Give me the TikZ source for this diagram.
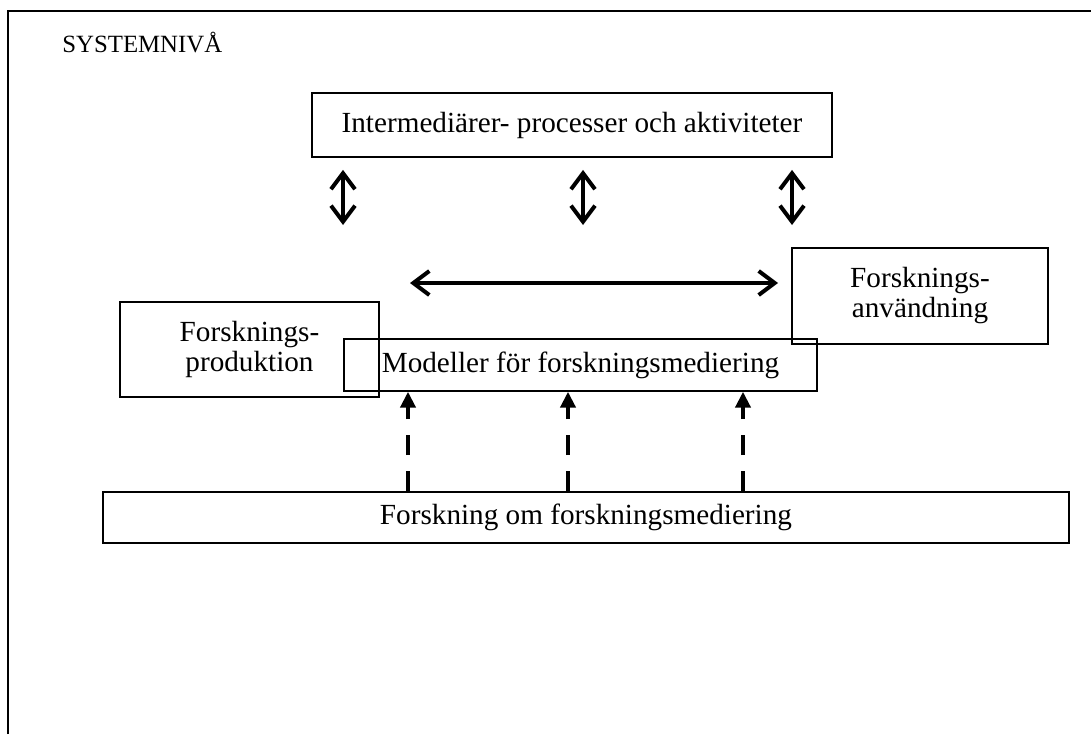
\documentclass[tikz,border=0pt]{standalone}
\usepackage{fontspec}
\setmainfont{Liberation Serif}
\usetikzlibrary{arrows.meta}

\begin{document}
\begin{tikzpicture}[
  x=0.5pt, y=-0.5pt,
  box/.style={draw, line width=0.9pt, inner sep=0pt, align=center, font=\fontsize{14.6}{15}\selectfont},
  dbl/.style={{Straight Barb[length=8pt,width=12pt]}-{Straight Barb[length=8pt,width=12pt]}, line width=2pt},
  dup/.style={-{Triangle[length=8pt,width=7.5pt]}, line width=2pt, dash pattern=on 10pt off 8pt}
]
\useasboundingbox (0,0) rectangle (1091,734);

% frame
\draw[line width=1pt] (8,734) -- (8,11) -- (1091,11);
\node[anchor=base west, inner sep=0pt, font=\fontsize{12.4}{14}\selectfont] (sys) at (62,52) {SYSTEMNIVÅ};

\node[box, minimum width=260pt, minimum height=32pt] (inter) at (572,125) {Intermediärer- processer och aktiviteter};
\node[box, line width=1.2pt, minimum width=128pt, minimum height=48pt] (anv) at (920,296) {Forsknings-\\användning};
\node[box, line width=0.7pt, minimum width=129.5pt, minimum height=47.5pt] (prod) at (249.5,349.5) {Forsknings-\\produktion};
\node[box, line width=0.7pt, minimum width=236.5pt, minimum height=26pt] (mod) at (580.5,365) {Modeller för forskningsmediering};
\node[box, minimum width=483pt, minimum height=25.5pt] (fom) at (586,517.5) {Forskning om forskningsmediering};

% free ends of the two-way arrows
\coordinate (a1) at (343,225);
\coordinate (a2) at (583,225);
\coordinate (a3) at (792,225);
\coordinate (hl) at (410,283);
\coordinate (hr) at (778,283);

\foreach \c in {a1,a2,a3}
  \draw[dbl] ([yshift=-6pt]inter.south -| \c) -- (\c);
\draw[dbl] (hl) -- (hr);

\foreach \x in {408,568,743}
  \draw[dup] (fom.north -| \x,0) -- (mod.south -| \x,0);

\end{tikzpicture}
\end{document}
